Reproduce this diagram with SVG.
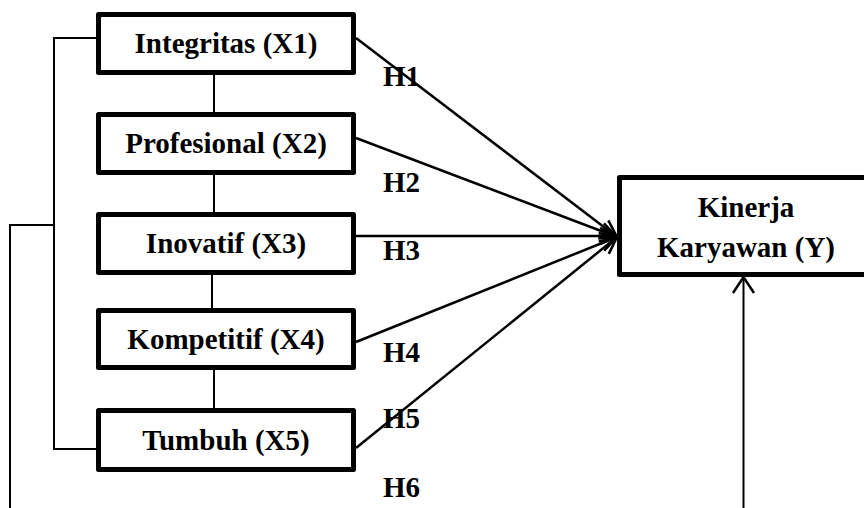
<svg xmlns="http://www.w3.org/2000/svg" width="864" height="508" viewBox="0 0 864 508">
  <style>
    .box { fill: #fff; stroke: #000; stroke-width: 5; stroke-linejoin: round; }
    .lbl { font-family: "Liberation Serif", "Times New Roman", serif; font-weight: bold; font-size: 29px; fill: #000; }
    .mid { text-anchor: middle; }
    .ln { fill: none; stroke: #000; stroke-width: 2; }
    .arr { fill: none; stroke: #000; stroke-width: 2.5; marker-end: url(#head); }
  </style>
  <defs>
    <marker id="head" markerUnits="userSpaceOnUse" markerWidth="24" markerHeight="24" viewBox="-20 -12 24 24" refX="0" refY="0" orient="auto">
      <path d="M-17,-8 L0,0 L-17,8" fill="none" stroke="#000" stroke-width="2.5"/>
    </marker>
  </defs>

  <!-- connectors -->
  <g id="connectors">
    <!-- links between neighbouring variables -->
    <line class="ln" x1="214" y1="75" x2="214" y2="112"/>
    <line class="ln" x1="214" y1="175" x2="214" y2="212"/>
    <line class="ln" x1="212" y1="275" x2="212" y2="308"/>
    <line class="ln" x1="214" y1="370" x2="214" y2="408"/>
    <!-- bracket joining X1 to X5 -->
    <polyline class="ln" points="96,38 54,38 54,449 96,449"/>
    <!-- joint path H6 -->
    <polyline class="ln" points="54,225 10,225 10,508"/>
    <line class="ln" x1="743.5" y1="508" x2="743.5" y2="277" stroke-width="2.5"/>
    <path d="M733,293 L743.5,277 L754,293" fill="none" stroke="#000" stroke-width="2.5"/>
    <!-- hypothesis paths -->
    <line class="arr" x1="356" y1="38" x2="617" y2="237"/>
    <line class="arr" x1="356" y1="138" x2="617" y2="237"/>
    <line class="arr" x1="356" y1="236" x2="617" y2="236"/>
    <line class="arr" x1="356" y1="342" x2="617" y2="237"/>
    <line class="arr" x1="356" y1="448" x2="617" y2="237"/>
  </g>

  <!-- hypothesis labels -->
  <g id="labels">
    <text class="lbl" x="383" y="86">H1</text>
    <text class="lbl" x="383" y="192">H2</text>
    <text class="lbl" x="383" y="260">H3</text>
    <text class="lbl" x="383" y="362">H4</text>
    <text class="lbl" x="383" y="428">H5</text>
    <text class="lbl" x="383" y="497">H6</text>
  </g>

  <g id="x1">
    <rect class="box" x="98.5" y="14.5" width="255" height="58"/>
    <text class="lbl mid" x="226" y="53">Integritas (X1)</text>
  </g>
  <g id="x2">
    <rect class="box" x="98.5" y="114.5" width="255" height="58"/>
    <text class="lbl mid" x="226" y="153">Profesional (X2)</text>
  </g>
  <g id="x3">
    <rect class="box" x="98.5" y="214.5" width="255" height="58"/>
    <text class="lbl mid" x="226" y="253">Inovatif (X3)</text>
  </g>
  <g id="x4">
    <rect class="box" x="98.5" y="310.5" width="255" height="57"/>
    <text class="lbl mid" x="226" y="349">Kompetitif (X4)</text>
  </g>
  <g id="x5">
    <rect class="box" x="98.5" y="410.5" width="255" height="59"/>
    <text class="lbl mid" x="226" y="450">Tumbuh (X5)</text>
  </g>
  <g id="y">
    <rect class="box" x="619.5" y="177.5" width="260" height="97"/>
    <text class="lbl mid" x="746" y="217">Kinerja</text>
    <text class="lbl mid" x="746" y="257">Karyawan (Y)</text>
  </g>
</svg>
